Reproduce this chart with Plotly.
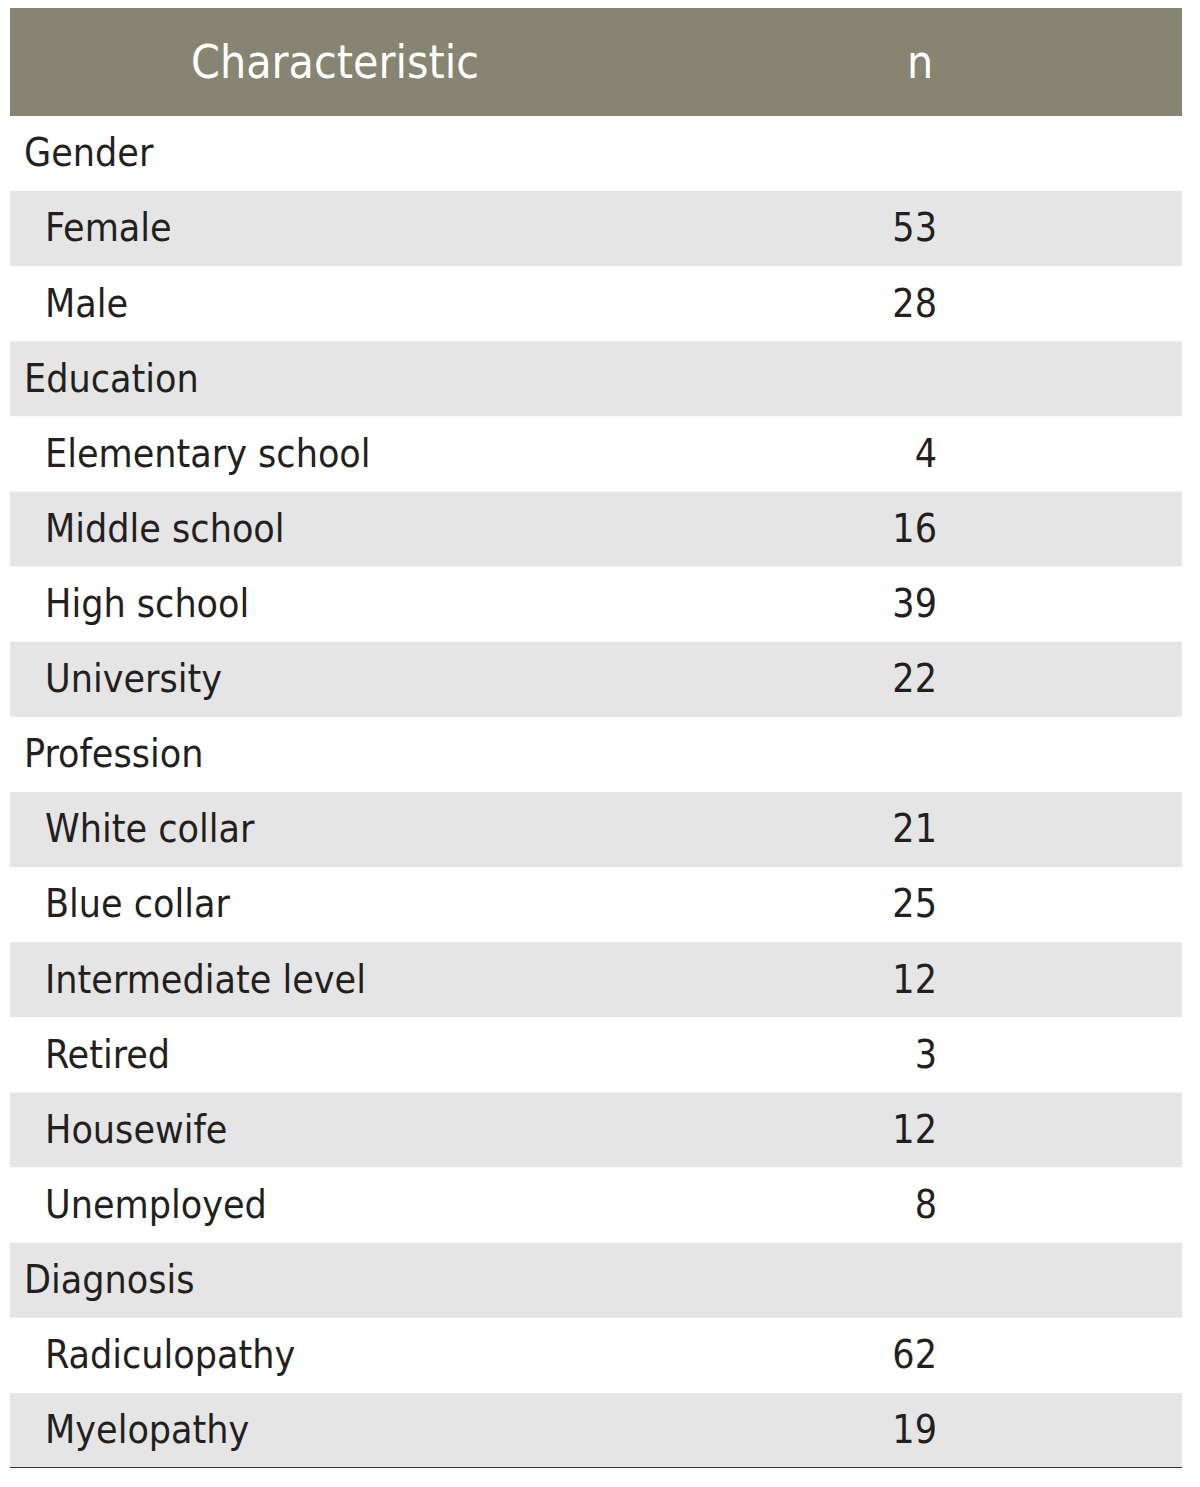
import plotly.graph_objects as go

# table content
header_labels = ["Characteristic", "n"]

group_names = ["Gender", "Education", "Profession", "Diagnosis"]
gender_labels = ["Female", "Male"]
gender_n = [53, 28]
education_labels = ["Elementary school", "Middle school", "High school", "University"]
education_n = [4, 16, 39, 22]
profession_labels = ["White collar", "Blue collar", "Intermediate level", "Retired", "Housewife", "Unemployed"]
profession_n = [21, 25, 12, 3, 12, 8]
diagnosis_labels = ["Radiculopathy", "Myelopathy"]
diagnosis_n = [62, 19]

# flatten into table rows
rows = []
for name, labels, values in zip(
    group_names,
    [gender_labels, education_labels, profession_labels, diagnosis_labels],
    [gender_n, education_n, profession_n, diagnosis_n],
):
    rows.append((name, None, 0))
    for lab, val in zip(labels, values):
        rows.append((lab, val, 1))

# geometry in pixel-like axis units
W = 1172
HEADER_H = 108
ROW_H = 75.11
TEXT_DY = 3  # nudge text down a touch inside each band
FONT = "Liberation Sans Narrow, DejaVu Sans Condensed, Arial Narrow, sans-serif"
HEADER_BG = "#878471"
STRIPE = "#e5e5e5"
INK = "#231f20"

n_rows = len(rows)
row_centers = [HEADER_H + ROW_H * (i + 0.5) for i in range(n_rows)]
row_colors = ["#ffffff" if i % 2 == 0 else STRIPE for i in range(n_rows)]
total_h = HEADER_H + ROW_H * n_rows

fig = go.Figure()

# header band
fig.add_trace(go.Bar(
    y=[HEADER_H / 2], x=[W], base=0, width=[HEADER_H], orientation="h",
    marker=dict(color=HEADER_BG, line=dict(width=0)), hoverinfo="skip",
))
# row bands
fig.add_trace(go.Bar(
    y=row_centers, x=[W] * n_rows, base=0, width=[ROW_H] * n_rows, orientation="h",
    marker=dict(color=row_colors, line=dict(width=0)), hoverinfo="skip",
))

# header text
fig.add_trace(go.Scatter(
    x=[325, 910], y=[HEADER_H / 2 + 4] * 2, mode="text", text=header_labels,
    textposition="middle center",
    textfont=dict(family=FONT, size=46, color="white"), hoverinfo="skip",
))

# group labels and item labels
for level, xpos in [(0, 14), (1, 35)]:
    idx = [i for i, r in enumerate(rows) if r[2] == level]
    fig.add_trace(go.Scatter(
        x=[xpos] * len(idx), y=[row_centers[i] + TEXT_DY for i in idx], mode="text",
        text=[rows[i][0] for i in idx], textposition="middle right",
        textfont=dict(family=FONT, size=39, color=INK), hoverinfo="skip",
    ))

# n values
idx = [i for i, r in enumerate(rows) if r[1] is not None]
fig.add_trace(go.Scatter(
    x=[927] * len(idx), y=[row_centers[i] + TEXT_DY for i in idx], mode="text",
    text=[str(rows[i][1]) for i in idx], textposition="middle left",
    textfont=dict(family=FONT, size=39, color=INK), hoverinfo="skip",
))

# page body adds an 8px offset, margins compensate
fig.update_layout(
    width=1200, height=1487,
    margin=dict(l=2, r=26, t=0, b=27),
    paper_bgcolor="white", plot_bgcolor="white",
    showlegend=False, barmode="overlay",
    xaxis=dict(range=[0, W], visible=False, fixedrange=True),
    yaxis=dict(range=[total_h, 0], visible=False, fixedrange=True),
    shapes=[dict(type="line", xref="x", yref="y", x0=0, x1=W, y0=total_h, y1=total_h,
                 line=dict(color="#333333", width=2))],
)

fig.write_html("out.html")
